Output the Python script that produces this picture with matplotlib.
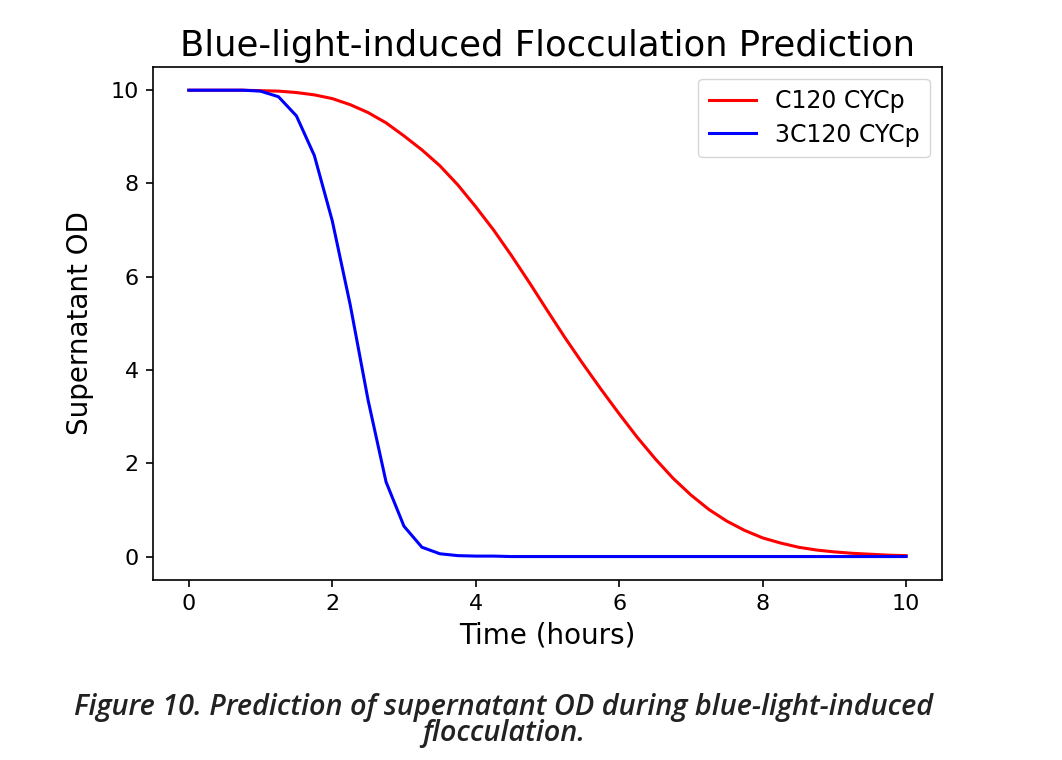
import matplotlib
matplotlib.use("Agg")
import matplotlib.pyplot as plt

# time points (hours)
time = [i * 0.25 for i in range(41)]

# C120 CYCp predicted supernatant OD
c120 = [10.00, 10.00, 10.00, 10.00, 9.99, 9.98, 9.95, 9.90, 9.82, 9.69,
        9.52, 9.30, 9.02, 8.72, 8.38, 7.97, 7.50, 7.00, 6.45, 5.87,
        5.27, 4.68, 4.12, 3.58, 3.06, 2.56, 2.10, 1.68, 1.32, 1.01,
        0.76, 0.56, 0.40, 0.29, 0.20, 0.14, 0.10, 0.07, 0.05, 0.03,
        0.02]

# 3C120 CYCp predicted supernatant OD
c3120 = [10.00, 10.00, 10.00, 10.00, 9.98, 9.86, 9.45, 8.60, 7.20, 5.40,
         3.35, 1.60, 0.65, 0.20, 0.06, 0.02, 0.01, 0.01, 0.0, 0.0,
         0.0, 0.0, 0.0, 0.0, 0.0, 0.0, 0.0, 0.0, 0.0, 0.0,
         0.0, 0.0, 0.0, 0.0, 0.0, 0.0, 0.0, 0.0, 0.0, 0.0,
         0.0]

fig = plt.figure(figsize=(10.62, 7.60), dpi=100)
ax = fig.add_axes([0.144, 0.237, 0.743, 0.675])

ax.plot(time, c120, color="r", linewidth=2.2, label="C120 CYCp")
ax.plot(time, c3120, color="b", linewidth=2.2, label="3C120 CYCp")

ax.set_title("Blue-light-induced Flocculation Prediction", fontsize=25.5, pad=8)
ax.set_xlabel("Time (hours)", fontsize=20, labelpad=5)
ax.set_ylabel("Supernatant OD", fontsize=20, labelpad=12)
ax.set_xticks([0, 2, 4, 6, 8, 10])
ax.set_yticks([0, 2, 4, 6, 8, 10])
ax.tick_params(labelsize=16, length=5.3, width=1.2, pad=5)
for s in ax.spines.values():
    s.set_linewidth(1.2)
ax.legend(fontsize=17, loc="upper right", borderpad=0.45, handlelength=2.0,
          labelspacing=0.4)

cap_font = dict(family=["Open Sans", "DejaVu Sans"], style="italic",
                weight="semibold", fontsize=20.8, color="#222222", ha="center")
fig.text(0.474, 1 - 707 / 760, "Figure 10. Prediction of supernatant OD during blue-light-induced",
         va="center", **cap_font)
fig.text(0.474, 1 - 734 / 760, "flocculation.", va="center", **cap_font)

fig.savefig("out.png", dpi=100)
